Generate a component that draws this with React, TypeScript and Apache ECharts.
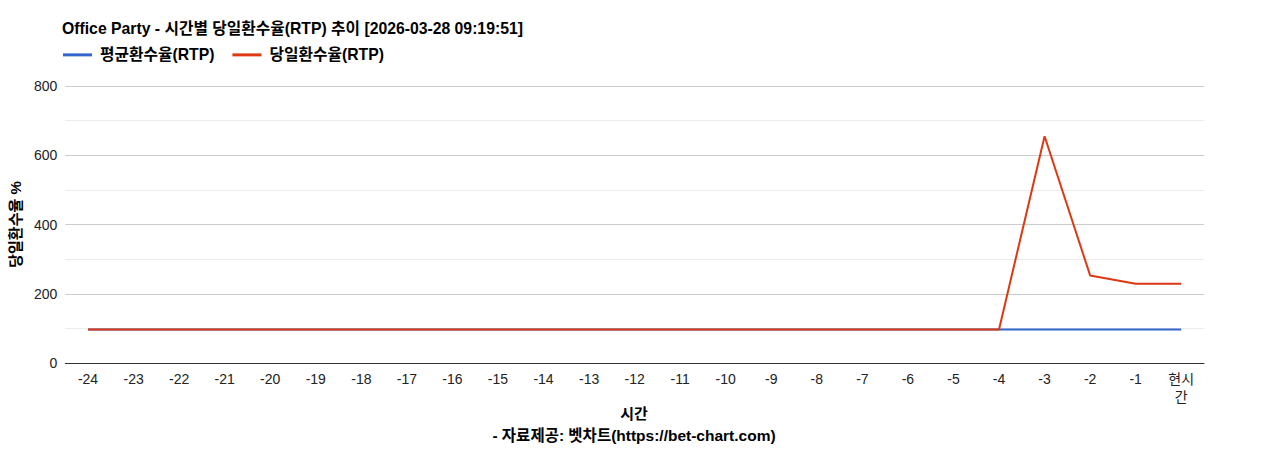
import React, { useEffect, useRef } from "react";
import * as echarts from "echarts";

const categories = [
  "-24", "-23", "-22", "-21", "-20", "-19", "-18", "-17", "-16", "-15", "-14", "-13",
  "-12", "-11", "-10", "-9", "-8", "-7", "-6", "-5", "-4", "-3", "-2", "-1", "현시간",
];
const avgRtp = [
  97, 97, 97, 97, 97, 97, 97, 97, 97, 97, 97, 97,
  97, 97, 97, 97, 97, 97, 97, 97, 97, 97, 97, 97, 97,
];
const dayRtp = [
  97, 97, 97, 97, 97, 97, 97, 97, 97, 97, 97, 97,
  97, 97, 97, 97, 97, 97, 97, 97, 97, 655, 253, 229, 229,
];
const seriesNames = ["평균환수율(RTP)", "당일환수율(RTP)"];
const title = "Office Party - 시간별 당일환수율(RTP) 추이 [2026-03-28 09:19:51]";
const yTitle = "당일환수율 %";
const xTitle = "시간";
const source = "- 자료제공: 벳차트(https://bet-chart.com)";

const FONT = '"Liberation Sans", Arial, "Noto Sans CJK KR", sans-serif';

export default function App() {
  const ref = useRef<HTMLDivElement>(null);
  useEffect(() => {
    if (!ref.current) return;
    const chart = echarts.init(ref.current, undefined, { renderer: "svg" });
    chart.setOption({
      animation: false,
      backgroundColor: "#ffffff",
      textStyle: { fontFamily: FONT },
      title: {
        text: title,
        left: 57,
        top: 16,
        textStyle: { fontSize: 15.75, fontWeight: "bold", color: "#000", fontFamily: FONT },
      },
      legend: {
        left: 58,
        top: 42,
        itemWidth: 29,
        itemHeight: 3,
        itemGap: 18,
        icon: "rect",
        data: seriesNames,
        textStyle: {
          fontSize: 15.75,
          fontWeight: "bold",
          color: "#000",
          fontFamily: FONT,
          padding: [0, 0, 0, 3],
        },
      },
      grid: { left: 63, right: 64, top: 86, bottom: 87, containLabel: false },
      xAxis: {
        type: "category",
        data: categories,
        boundaryGap: true,
        axisLine: { lineStyle: { color: "#333", width: 1 } },
        axisTick: { show: false },
        axisLabel: {
          fontSize: 14,
          color: "#222",
          margin: 7,
          interval: 0,
          lineHeight: 18,
          fontFamily: FONT,
          formatter: (v: string) => (v === "현시간" ? "현시\n간" : v),
        },
        splitLine: { show: false },
      },
      yAxis: {
        type: "value",
        min: 0,
        max: 800,
        interval: 200,
        name: yTitle,
        nameLocation: "middle",
        nameGap: 40,
        nameTextStyle: { fontSize: 15, fontWeight: "bold", color: "#000", fontFamily: FONT },
        axisLine: { show: false },
        axisTick: { show: false },
        axisLabel: { fontSize: 14, color: "#222", margin: 8, fontFamily: FONT },
        splitLine: { lineStyle: { color: "#cccccc", width: 1 } },
        minorTick: { show: false, splitNumber: 2 },
        minorSplitLine: { show: true, lineStyle: { color: "#ebebeb", width: 1 } },
      },
      series: [
        {
          name: seriesNames[0],
          type: "line",
          data: avgRtp,
          symbol: "none",
          lineStyle: { color: "#3366cc", width: 2 },
          itemStyle: { color: "#3366cc" },
        },
        {
          name: seriesNames[1],
          type: "line",
          data: dayRtp,
          symbol: "none",
          lineStyle: { color: "#dc3912", width: 2 },
          itemStyle: { color: "#dc3912" },
        },
      ],
      graphic: [
        {
          type: "text",
          left: "center",
          top: 406,
          style: { text: xTitle, fill: "#000", font: `bold 15px ${FONT}` },
        },
        {
          type: "text",
          left: "center",
          top: 428,
          style: { text: source, fill: "#000", font: `bold 15.5px ${FONT}` },
        },
      ],
    });
    return () => chart.dispose();
  }, []);
  return (
    <div
      ref={ref}
      style={{ position: "fixed", left: 0, top: 0, width: 1268, height: 450 }}
    />
  );
}
